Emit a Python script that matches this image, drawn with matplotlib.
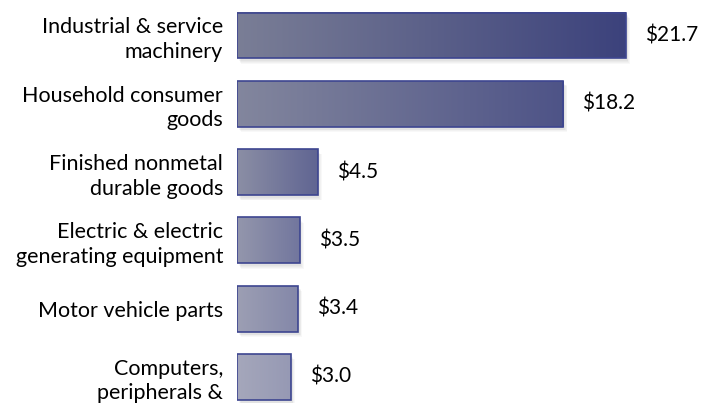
import numpy as np
import matplotlib
matplotlib.use("Agg")
import matplotlib.pyplot as plt
from matplotlib.patches import Rectangle

categories = [
    "Industrial & service\nmachinery",
    "Household consumer\ngoods",
    "Finished nonmetal\ndurable goods",
    "Electric & electric\ngenerating equipment",
    "Motor vehicle parts",
    "Computers,\nperipherals &",
]
values = [21.7, 18.2, 4.5, 3.5, 3.4, 3.0]
value_labels = ["$21.7", "$18.2", "$4.5", "$3.5", "$3.4", "$3.0"]

plt.rcParams['font.family'] = ['Lato', 'DejaVu Sans']

W, H = 701, 403
fig = plt.figure(figsize=(W / 100, H / 100), dpi=100)
ax = fig.add_axes([237 / W, 0, 1 - 237 / W, 1])

xmax = 25.9
pitch_px = 68.3
ytop = -35.5 / pitch_px
ybot = ytop + H / pitch_px

bar_h = 0.673
n = len(values)

left_top = np.array([122, 126, 150]) / 255
left_bot = np.array([165, 167, 187]) / 255
right_top = np.array([60, 66, 124]) / 255
right_bot = np.array([150, 153, 180]) / 255

for i, (v, lab) in enumerate(zip(values, value_labels)):
    f = i / (n - 1)
    lc = left_top + (left_bot - left_top) * f
    rc = right_top + (right_bot - right_top) * f
    y0 = i - bar_h / 2
    # soft shadow
    for k, a in enumerate([0.05, 0.05, 0.06, 0.07]):
        off = (4 - k) * 0.012
        ax.add_patch(Rectangle((0.05 + off * 4, y0 + off + 0.03), v, bar_h,
                               facecolor='#808080', edgecolor='none', alpha=a, zorder=1))
    t = np.linspace(0, 1, 256)
    grad = lc[None, :] + (rc - lc)[None, :] * t[:, None]
    ax.imshow(grad[None, :, :], extent=(0, v, i + bar_h / 2, i - bar_h / 2),
              aspect='auto', interpolation='bilinear', zorder=2)
    ax.add_patch(Rectangle((0, y0), v, bar_h, facecolor='none',
                           edgecolor='#3d4590', linewidth=1.2, zorder=3))
    ax.text(v + 1.06, i, lab, ha='left', va='center', fontsize=15,
            color='black', zorder=4)

ax.set_xlim(0, xmax)
ax.set_ylim(ybot, ytop)
ax.set_yticks(range(n))
ax.set_yticklabels(categories, fontsize=15.5, linespacing=1.28)
ax.tick_params(axis='y', length=0, pad=10)
ax.set_xticks([])
for s in ax.spines.values():
    s.set_visible(False)
ax.patch.set_alpha(0)

fig.savefig("out.png", dpi=100)
